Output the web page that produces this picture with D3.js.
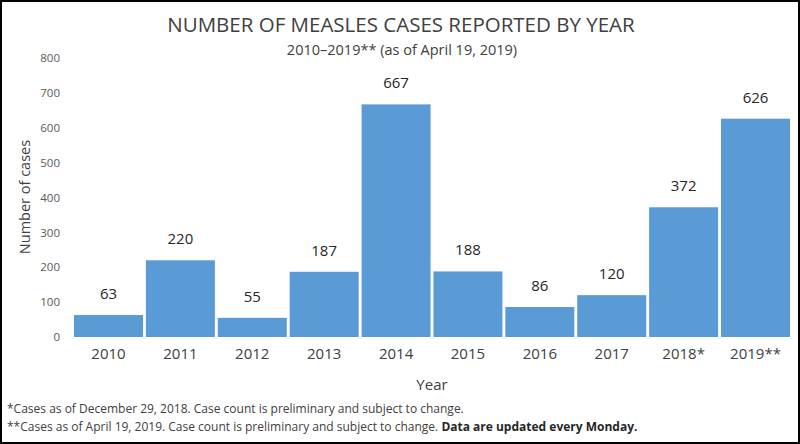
<!DOCTYPE html>
<html><head><meta charset="utf-8">
<script src="https://cdn.jsdelivr.net/npm/d3@7"></script>
<style>body{margin:0;background:#fff}svg{display:block}</style>
</head><body>
<svg id="c" width="800" height="444"></svg>
<script>
const years = ["2010","2011","2012","2013","2014","2015","2016","2017","2018*","2019**"];
const cases = [63,220,55,187,667,188,86,120,372,626];
const yTicks = [0,100,200,300,400,500,600,700,800];
const title = "NUMBER OF MEASLES CASES REPORTED BY YEAR";
const subtitle = "2010\u20132019** (as of April 19, 2019)";

const svg = d3.select("#c");
const font = "'Open Sans', sans-serif";
const W=800,H=444;
svg.append("rect").attr("x",1).attr("y",1).attr("width",W-2).attr("height",H-2).attr("fill","#fff").attr("stroke","#000").attr("stroke-width",2);

const x = d3.scaleBand().domain(years).range([74,790]).paddingInner(0.04).paddingOuter(0);
const y = d3.scaleLinear().domain([0,800]).range([337,58]);

svg.append("text").attr("x",401).attr("y",32).attr("text-anchor","middle")
  .attr("font-family",font).attr("font-size",20.5).attr("fill","#404040").text(title);
svg.append("text").attr("x",402).attr("y",55).attr("text-anchor","middle")
  .attr("font-family",font).attr("font-size",14.5).attr("fill","#404040").text(subtitle);

const yAxis = d3.axisLeft(y).tickValues(yTicks).tickSize(0).tickPadding(0);
const gy = svg.append("g").attr("transform","translate(60,0)").call(yAxis);
gy.select(".domain").remove();
gy.selectAll("text").attr("font-family",font).attr("font-size",11.5).attr("fill","#595959");

svg.selectAll("rect.bar").data(cases).join("rect").attr("class","bar")
  .attr("x",(d,i)=>x(years[i])).attr("width",x.bandwidth())
  .attr("y",d=>y(d)).attr("height",d=>y(0)-y(d)).attr("fill","#5B9BD5");

svg.selectAll("text.val").data(cases).join("text").attr("class","val")
  .attr("x",(d,i)=>x(years[i])+x.bandwidth()/2).attr("y",d=>y(d)-16)
  .attr("text-anchor","middle").attr("font-family",font).attr("font-size",15).attr("fill","#262626").text(d=>d);

const xAxis = d3.axisBottom(x).tickSize(0).tickPadding(0);
const gx = svg.append("g").attr("transform","translate(0,348)").call(xAxis);
gx.select(".domain").remove();
gx.selectAll("text").attr("font-family",font).attr("font-size",15).attr("fill","#404040");

svg.append("text").attr("x",432).attr("y",390).attr("text-anchor","middle")
  .attr("font-family",font).attr("font-size",15).attr("fill","#404040").text("Year");
svg.append("text").attr("transform","translate(30,197) rotate(-90)").attr("text-anchor","middle")
  .attr("font-family",font).attr("font-size",14.5).attr("fill","#404040").text("Number of cases");

svg.append("text").attr("x",7).attr("y",413).attr("font-family",font).attr("font-size",12).attr("fill","#404040")
  .text("*Cases as of December 29, 2018. Case count is preliminary and subject to change.");
const t2 = svg.append("text").attr("x",7).attr("y",431).attr("font-family",font).attr("font-size",12).attr("fill","#404040");
t2.append("tspan").text("**Cases as of April 19, 2019. Case count is preliminary and subject to change. ");
t2.append("tspan").attr("font-weight","bold").attr("fill","#262626").text("Data are updated every Monday.");
</script>
</body></html>
